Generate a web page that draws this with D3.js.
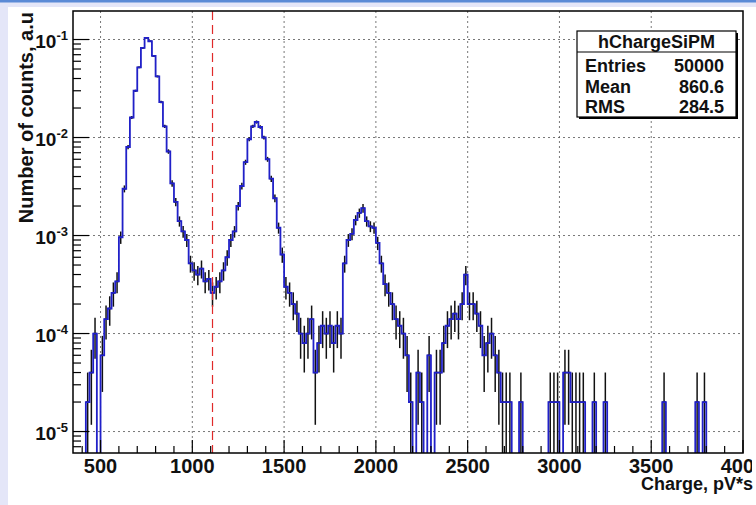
<!DOCTYPE html>
<html><head><meta charset="utf-8">
<script src="https://cdn.jsdelivr.net/npm/d3@7"></script>
<style>body{margin:0;background:#fff} svg{display:block}</style>
</head><body><svg id="c" width="756" height="505"></svg>
<script>
// ---------------- data ----------------
const histName = "hChargeSiPM";
const entries = 50000;
const statLabels = ["Entries", "Mean", "RMS"];
const statValues = ["50000", "860.6", "284.5"];
const binLow = 400, binWidth = 20;
// raw counts per 20-unit bin, 400 ... 4000 (value plotted = count / entries)
const counts = [
  0,1,2,5,0,        3,7,9,13,17,       48,150,400,800,1500,  2600,4100,5200,4800,3400,
  2100,1150,650,360,170, 110,70,55,45,26, 22,20,23,17,18,    13,15,17,22,30,
  45,55,100,160,280, 480,650,720,640,500, 300,190,120,60,32,  15,13,10,8,5,
  4,5,7,2,4,        6,5,6,4,6,         5,26,45,52,72,       85,95,70,62,60,
  42,26,16,13,10,   7,6,5,3,1,         0,2,1,0,3,           0,2,2,4,6,
  7,8,7,10,20,      10,10,8,6,3,       4,5,3,2,1,           1,1,0,0,1,
  0,0,0,0,0,        0,0,1,1,1,         0,2,2,1,1,           1,1,0,0,1,
  0,0,1,0,0,        0,0,0,0,0,         0,0,0,0,0,           0,0,0,1,0,
  0,0,0,0,0,        0,0,1,0,1,         0,0,0,0,0,           0,0,0,0,0
];
const xTicks = [500, 1000, 1500, 2000, 2500, 3000, 3500, 4000];
const xTickLabels = ["500", "1000", "1500", "2000", "2500", "3000", "3500", "4000"];
const yDecadeExp = [-5, -4, -3, -2, -1];
const cutValue = 1110;
const xDomain = [350, 4000];
const yDomain = [6.04e-6, 0.1954];
const xTitle = "Charge, pV*s";
const yTitle = "Number of counts, a.u";

// ---------------- layout ----------------
const W = 756, H = 505;
const F = {l: 73, r: 743, t: 11, b: 453};
const font = "'Liberation Sans', Arial, Helvetica, sans-serif";
const svg = d3.select("#c");

// page background
svg.append("rect").attr("width", W).attr("height", H).attr("fill", "#e4e6f8");
svg.append("rect").attr("x", 0).attr("y", 0).attr("width", W).attr("height", 2.5).attr("fill", "#5a8ad6");
svg.append("rect").attr("x", 8).attr("y", 7).attr("width", W - 8).attr("height", H - 7).attr("fill", "#fff");

const x = d3.scaleLinear().domain(xDomain).range([F.l, F.r]);
const y = d3.scaleLog().domain(yDomain).range([F.b, F.t]);

const defs = svg.append("defs");
defs.append("clipPath").attr("id", "frameClip").append("rect")
  .attr("x", F.l).attr("y", F.t).attr("width", F.r - F.l).attr("height", F.b - F.t);
defs.append("clipPath").attr("id", "canvasClip").append("rect")
  .attr("x", 0).attr("y", 0).attr("width", 752).attr("height", H);

// grid
const grid = svg.append("g").attr("stroke", "#555").attr("stroke-width", 0.8)
  .attr("stroke-dasharray", "2,3");
grid.selectAll(".gx").data(xTicks.filter(v => v < xDomain[1])).enter().append("line")
  .attr("x1", d => x(d)).attr("x2", d => x(d)).attr("y1", F.t).attr("y2", F.b);
grid.selectAll(".gy").data(yDecadeExp).enter().append("line")
  .attr("x1", F.l).attr("x2", F.r).attr("y1", d => y(Math.pow(10, d))).attr("y2", d => y(Math.pow(10, d)));

// histogram
const plot = svg.append("g").attr("clip-path", "url(#frameClip)");
const below = F.b + 10;
const bins = counts.map((c, i) => ({lo: binLow + i * binWidth, hi: binLow + (i + 1) * binWidth, n: c}));

// black error bars
const eb = plot.append("g").attr("stroke", "#111").attr("stroke-width", 1.5).attr("fill", "none");
bins.filter(b => b.n > 0).forEach(b => {
  const s = Math.sqrt(b.n);
  const lo = (b.n - s) / entries, hi = (b.n + s) / entries;
  const cx = x((b.lo + b.hi) / 2);
  eb.append("line").attr("x1", cx).attr("x2", cx)
    .attr("y1", lo > 0 ? y(lo) : below).attr("y2", y(hi));
  eb.append("line").attr("x1", x(b.lo)).attr("x2", x(b.hi))
    .attr("y1", y(b.n / entries)).attr("y2", y(b.n / entries));
});

// blue step line
const pts = [[x(bins[0].lo), below]];
bins.forEach(b => pts.push([x(b.lo), b.n > 0 ? y(b.n / entries) : below]));
pts.push([x(bins[bins.length - 1].hi), below]);
plot.append("path").attr("d", d3.line().curve(d3.curveStepAfter)(pts))
  .attr("fill", "none").attr("stroke", "#2020c8").attr("stroke-width", 1.8);

// red dashed cut line
svg.append("line").attr("x1", x(cutValue)).attr("x2", x(cutValue)).attr("y1", F.t).attr("y2", F.b)
  .attr("stroke", "#e02a2a").attr("stroke-width", 1.2).attr("stroke-dasharray", "9,5");

// frame
svg.append("rect").attr("x", F.l).attr("y", F.t).attr("width", F.r - F.l).attr("height", F.b - F.t)
  .attr("fill", "none").attr("stroke", "#000").attr("stroke-width", 1.5);

// x ticks (inside, upward)
const tk = svg.append("g").attr("stroke", "#000").attr("stroke-width", 1.2);
const xMinor = d3.range(400, 4001, 100);
tk.selectAll(".xm").data(xMinor).enter().append("line")
  .attr("x1", d => x(d)).attr("x2", d => x(d)).attr("y1", F.b)
  .attr("y2", d => F.b - (d % 500 === 0 ? 13 : 7));
// y ticks (inside, rightward)
const yMinor = [];
for (let e = -6; e <= -1; e++) for (let m = 1; m <= 9; m++) {
  const v = m * Math.pow(10, e);
  if (v >= yDomain[0] && v <= yDomain[1]) yMinor.push({v, major: m === 1});
}
tk.selectAll(".ym").data(yMinor).enter().append("line")
  .attr("x1", F.l).attr("x2", d => F.l + (d.major ? 16 : 8))
  .attr("y1", d => y(d.v)).attr("y2", d => y(d.v));

// x tick labels
svg.append("g").attr("clip-path", "url(#canvasClip)")
  .selectAll("text").data(xTicks).enter().append("text")
  .attr("x", d => x(d)).attr("y", 473).attr("text-anchor", "middle")
  .attr("font-family", font).attr("font-weight", "bold").attr("font-size", 20).attr("fill", "#111")
  .text((d, i) => xTickLabels[i]);

// y tick labels
const yl = svg.append("g").attr("font-family", font).attr("font-weight", "bold").attr("fill", "#111");
yDecadeExp.forEach(e => {
  const t = yl.append("text").attr("x", 68).attr("y", y(Math.pow(10, e)) + 8).attr("text-anchor", "end");
  t.append("tspan").attr("font-size", 19).text("10");
  t.append("tspan").attr("font-size", 13).attr("dy", -8).text(String(e));
});

// axis titles
svg.append("text").attr("x", 753).attr("y", 490).attr("text-anchor", "end")
  .attr("font-family", font).attr("font-weight", "bold").attr("font-size", 18).attr("fill", "#111")
  .text(xTitle);
svg.append("text").attr("transform", "translate(33,12) rotate(-90)").attr("text-anchor", "end")
  .attr("font-family", font).attr("font-weight", "bold").attr("font-size", 20).attr("fill", "#111")
  .text(yTitle);

// stats box
const bx = 577, by = 31, bw = 159, bh = 86;
svg.append("rect").attr("x", bx + 2).attr("y", by + 2).attr("width", bw).attr("height", bh).attr("fill", "#000");
svg.append("rect").attr("x", bx).attr("y", by).attr("width", bw).attr("height", bh)
  .attr("fill", "#fff").attr("stroke", "#000").attr("stroke-width", 1.2);
svg.append("line").attr("x1", bx).attr("x2", bx + bw).attr("y1", 52).attr("y2", 52)
  .attr("stroke", "#000").attr("stroke-width", 1.2);
const st = svg.append("g").attr("font-family", font).attr("font-weight", "bold").attr("font-size", 18).attr("fill", "#111");
st.append("text").attr("x", bx + bw / 2).attr("y", 48).attr("text-anchor", "middle").text(histName);
const rowY = [72, 93, 113];
statLabels.forEach((l, i) => {
  st.append("text").attr("x", 585).attr("y", rowY[i]).text(l);
  st.append("text").attr("x", 724).attr("y", rowY[i]).attr("text-anchor", "end").text(statValues[i]);
});
</script></body></html>
